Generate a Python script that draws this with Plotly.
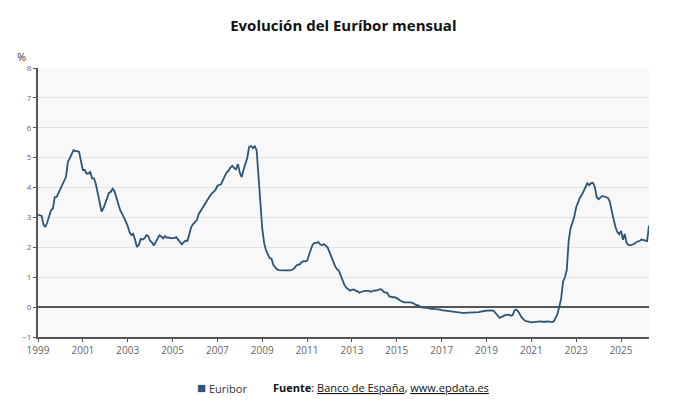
import pandas as pd
import plotly.graph_objects as go

# Euribor a 12 meses, media mensual (%), enero 1999 - abril 2026
start = "1999-01-01"
euribor = [
    # 1999
    3.09, 3.07, 3.05, 2.76, 2.68, 2.84, 3.03, 3.24, 3.30, 3.68, 3.69, 3.83,
    # 2000
    3.95, 4.11, 4.27, 4.36, 4.85, 4.96, 5.11, 5.25, 5.22, 5.22, 5.19, 4.88,
    # 2001
    4.58, 4.59, 4.47, 4.47, 4.52, 4.31, 4.31, 4.11, 3.77, 3.43, 3.20, 3.30,
    # 2002
    3.48, 3.59, 3.82, 3.86, 3.96, 3.87, 3.64, 3.44, 3.24, 3.13, 3.02, 2.87,
    # 2003
    2.71, 2.50, 2.41, 2.45, 2.25, 2.01, 2.08, 2.28, 2.26, 2.30, 2.41, 2.38,
    # 2004
    2.22, 2.16, 2.06, 2.16, 2.30, 2.40, 2.36, 2.30, 2.38, 2.32, 2.33, 2.30,
    # 2005
    2.31, 2.31, 2.34, 2.27, 2.19, 2.10, 2.17, 2.22, 2.22, 2.41, 2.68, 2.78,
    # 2006
    2.83, 2.91, 3.11, 3.22, 3.31, 3.40, 3.54, 3.62, 3.72, 3.80, 3.86, 3.92,
    # 2007
    4.06, 4.09, 4.11, 4.25, 4.37, 4.51, 4.56, 4.67, 4.73, 4.65, 4.61, 4.79,
    # 2008
    4.50, 4.35, 4.59, 4.82, 4.99, 5.36, 5.39, 5.32, 5.38, 5.25, 4.35, 3.45,
    # 2009
    2.62, 2.14, 1.91, 1.77, 1.64, 1.61, 1.41, 1.33, 1.26, 1.24, 1.23, 1.24,
    # 2010
    1.23, 1.23, 1.22, 1.23, 1.25, 1.28, 1.37, 1.42, 1.42, 1.50, 1.54, 1.53,
    # 2011
    1.55, 1.71, 1.92, 2.09, 2.15, 2.14, 2.18, 2.10, 2.07, 2.11, 2.04, 2.00,
    # 2012
    1.84, 1.68, 1.50, 1.37, 1.27, 1.22, 1.06, 0.88, 0.74, 0.65, 0.59, 0.55,
    # 2013
    0.58, 0.59, 0.55, 0.53, 0.48, 0.51, 0.53, 0.54, 0.54, 0.54, 0.51, 0.54,
    # 2014
    0.56, 0.55, 0.58, 0.60, 0.59, 0.51, 0.49, 0.47, 0.36, 0.34, 0.33, 0.33,
    # 2015
    0.30, 0.26, 0.21, 0.18, 0.16, 0.16, 0.17, 0.16, 0.15, 0.13, 0.08, 0.06,
    # 2016
    0.04, -0.01, -0.01, -0.01, -0.01, -0.03, -0.06, -0.05, -0.06, -0.07, -0.07, -0.08,
    # 2017
    -0.10, -0.11, -0.11, -0.12, -0.13, -0.15, -0.15, -0.16, -0.17, -0.18, -0.19, -0.19,
    # 2018
    -0.19, -0.19, -0.19, -0.19, -0.19, -0.18, -0.18, -0.17, -0.17, -0.15, -0.15, -0.13,
    # 2019
    -0.12, -0.11, -0.11, -0.11, -0.13, -0.19, -0.28, -0.36, -0.34, -0.30, -0.27, -0.26,
    # 2020
    -0.25, -0.29, -0.27, -0.11, -0.08, -0.15, -0.28, -0.36, -0.42, -0.47, -0.48, -0.50,
    # 2021
    -0.51, -0.50, -0.49, -0.48, -0.48, -0.48, -0.49, -0.50, -0.49, -0.48, -0.49, -0.50,
    # 2022
    -0.48, -0.34, -0.24, 0.01, 0.29, 0.85, 0.99, 1.25, 2.23, 2.63, 2.83, 3.02,
    # 2023
    3.34, 3.53, 3.65, 3.75, 3.86, 4.01, 4.14, 4.08, 4.15, 4.16, 4.02, 3.68,
    # 2024
    3.61, 3.67, 3.72, 3.70, 3.68, 3.65, 3.53, 3.17, 2.94, 2.69, 2.51, 2.44,
    # 2025
    2.55, 2.25, 2.45, 2.15, 2.08, 2.07, 2.08, 2.11, 2.17, 2.19, 2.22, 2.26,
    # 2026
    2.25, 2.22, 2.21, 2.73,
]
dates = pd.date_range(start, periods=len(euribor), freq="MS")

line_color = "#2d5577"
axis_color = "#555555"
font = "Open Sans"

fig = go.Figure()
fig.add_trace(go.Scatter(
    x=dates,
    y=euribor,
    mode="lines",
    name="Euribor",
    line=dict(color=line_color, width=1.8),
    showlegend=False,
))

# the page adds an 8px body margin, so the margins are shifted to compensate
fig.update_layout(
    width=690,
    height=414,
    margin=dict(l=30, r=49, t=60, b=85),
    paper_bgcolor="white",
    plot_bgcolor="#f8f8f8",
    font=dict(family=font, color="#333333"),
    title=dict(
        text="<b>Evolución del Euríbor mensual</b>",
        x=0.486, xanchor="center", y=0.958, yanchor="middle",
        font=dict(family=font, size=15, color="#111111"),
    ),
    xaxis=dict(
        type="date",
        range=[dates[0], dates[-1]],
        tick0="1999-01-01",
        dtick="M24",
        tickformat="%Y",
        showgrid=False,
        showline=True,
        linecolor=axis_color,
        linewidth=2,
        ticks="outside",
        ticklen=3,
        tickcolor=axis_color,
        tickfont=dict(size=10, color="#666666"),
        zeroline=False,
    ),
    yaxis=dict(
        range=[-1, 8],
        dtick=1,
        showgrid=True,
        gridcolor="#e3e3e3",
        gridwidth=1,
        showline=True,
        linecolor=axis_color,
        linewidth=2,
        ticks="outside",
        ticklen=3,
        tickcolor=axis_color,
        tickfont=dict(size=8, color="#666666"),
        zeroline=True,
        zerolinecolor=axis_color,
        zerolinewidth=2,
    ),
)

fig.add_annotation(
    text="%", xref="paper", yref="paper", x=-0.027, y=1.041,
    xanchor="center", yanchor="middle", showarrow=False,
    font=dict(size=11, color="#333333"),
)
fig.add_annotation(
    text=f"<span style='color:{line_color};font-size:15px'>■</span> Euribor",
    xref="paper", yref="paper", x=0.2575, y=-0.186,
    xanchor="left", yanchor="middle", showarrow=False,
    font=dict(size=11, color="#333333"),
)
fig.add_annotation(
    text="<b>Fuente</b>: <u>Banco de España</u>, <u>www.epdata.es</u>",
    xref="paper", yref="paper", x=0.382, y=-0.186,
    xanchor="left", yanchor="middle", showarrow=False,
    font=dict(size=11, color="#111111"),
)

fig.write_html("out.html")
